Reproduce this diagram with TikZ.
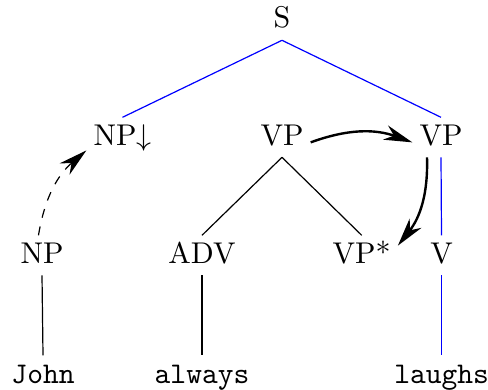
\documentclass[tikz,border=0pt]{standalone}
\usetikzlibrary{arrows.meta,positioning}
\begin{document}
\begin{tikzpicture}[x=0.3333pt,y=0.3333pt,
  tnode/.style={anchor=base,inner sep=2.2pt,text height=6.83pt,text depth=1.7pt},
  blueedge/.style={blue},
  bigtip/.style={-{Stealth[length=9.5pt,width=5pt,inset=3pt]}}]
\useasboundingbox (0,0) rectangle (488,389);

\node[tnode] (S) at (282,361) {S};
\node[tnode] (NPd) at (122.5,244) {NP$\downarrow$};
\node[tnode] (VPm) at (282,244) {VP};
\node[tnode] (VPr) at (441,244) {VP};
\node[tnode] (NPl) at (42,126) {NP};
\node[tnode] (ADV) at (202,126) {ADV};
\node[tnode] (VPs) at (361.7,126) {VP*};
\node[tnode] (V) at (441.5,126) {V};      %节点

\node[tnode] (John) at (43,6) {\texttt{John}};
\node[tnode] (always) at (202,6) {\texttt{always}};
\node[tnode] (laughs) at (441.5,6) {\texttt{laughs}};      %词

\foreach \a/\b in {S/NPd,S/VPr,VPr/V,V/laughs}
\draw[blueedge] (\a.south) -- (\b.north);
\foreach \a/\b in {VPm/ADV,VPm/VPs,NPl/John,ADV/always}
\draw (\a.south) -- (\b.north);      %树枝

\draw[dashed,bigtip] (NPl.100) to[bend left=20] (NPd.200);
\draw[thick,bigtip] (VPm.-10) to[bend left=20] (VPr.190);
\draw[thick,bigtip] (VPr.235) to[bend left=20] (VPs.15);      %箭头
\end{tikzpicture}
\end{document}
